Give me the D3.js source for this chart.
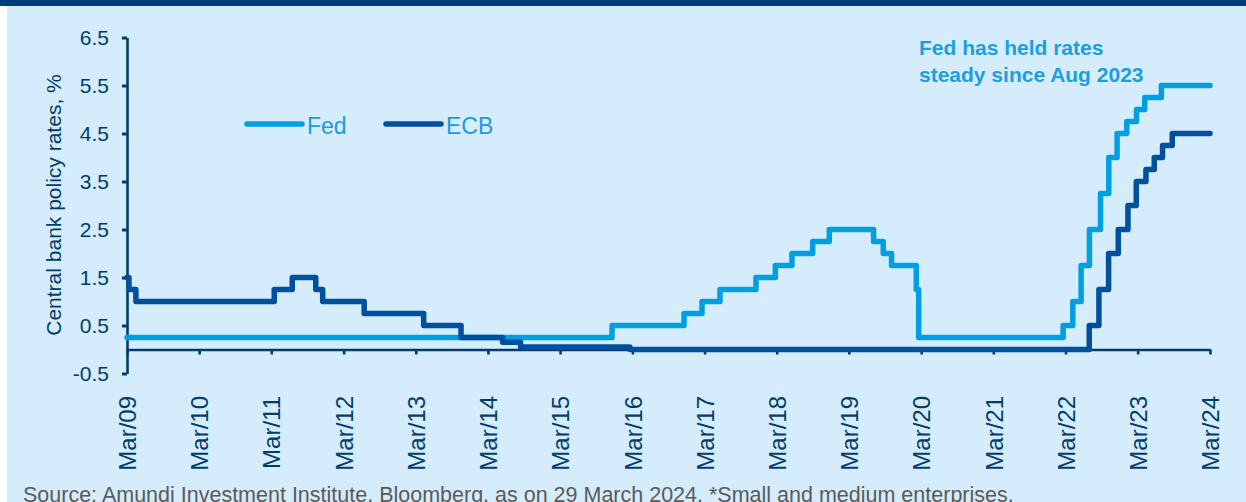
<!DOCTYPE html>
<html>
<head>
<meta charset="utf-8">
<script src="https://cdn.jsdelivr.net/npm/d3@7"></script>
<style>
  html, body { margin: 0; padding: 0; background: #ffffff; }
  #chart-div { width: 1246px; height: 502px; overflow: hidden; }
  text { font-family: "Liberation Sans", Arial, sans-serif; }
</style>
</head>
<body>
<div id="chart-div"></div>
<script>
// policy rate decisions (date of change, new rate in %)
var fedDates = ["2009-03-29","2015-12-17","2016-12-15","2017-03-16","2017-06-15","2017-12-14",
  "2018-03-22","2018-06-14","2018-09-27","2018-12-20","2019-08-01","2019-09-19","2019-10-31",
  "2020-03-04","2020-03-16","2022-03-17","2022-05-05","2022-06-16","2022-07-28","2022-09-22",
  "2022-11-03","2022-12-15","2023-02-02","2023-03-23","2023-05-04","2023-07-27","2024-03-29"];
var fedRates = [0.25,0.5,0.75,1.0,1.25,1.5,
  1.75,2.0,2.25,2.5,2.25,2.0,1.75,
  1.25,0.25,0.5,1.0,1.75,2.5,3.25,
  4.0,4.5,4.75,5.0,5.25,5.5,5.5];

var ecbDates = ["2009-03-29","2009-04-08","2009-05-13","2011-04-13","2011-07-13","2011-11-09",
  "2011-12-14","2012-07-11","2013-05-08","2013-11-13","2014-06-11","2014-09-10","2016-03-16",
  "2022-07-27","2022-09-14","2022-11-02","2022-12-21","2023-02-08","2023-03-22","2023-05-10",
  "2023-06-21","2023-08-02","2023-09-20","2024-03-29"];
var ecbRates = [1.5,1.25,1.0,1.25,1.5,1.25,
  1.0,0.75,0.5,0.25,0.15,0.05,0.0,
  0.5,1.25,2.0,2.5,3.0,3.5,3.75,
  4.0,4.25,4.5,4.5];

var xTickLabels = ["Mar/09","Mar/10","Mar/11","Mar/12","Mar/13","Mar/14","Mar/15","Mar/16",
  "Mar/17","Mar/18","Mar/19","Mar/20","Mar/21","Mar/22","Mar/23","Mar/24"];
var yTicks = [-0.5, 0.5, 1.5, 2.5, 3.5, 4.5, 5.5, 6.5];

var width = 1246
var height = 502
var navy = "#003c6e"
var fedColor = "#009fe3"
var ecbColor = "#00509e"

var svg = d3.select('#chart-div')
            .append('svg')
            .attr("width", width)
            .attr("height", height)
            .attr("viewBox", [0, 0, width, height]);

// background panel and top band
svg.append("rect").attr("x", 7).attr("y", 0).attr("width", width - 7).attr("height", height).attr("fill", "#d5ecfc");
svg.append("rect").attr("x", 0).attr("y", 0).attr("width", width).attr("height", 6).attr("fill", "#003b7a");

var parse = d3.timeParse("%Y-%m-%d");
var fed = fedDates.map(function(d, i) { return {date: parse(d), value: fedRates[i]}; });
var ecb = ecbDates.map(function(d, i) { return {date: parse(d), value: ecbRates[i]}; });
var tickDates = xTickLabels.map(function(d) { return parse("20" + d.slice(4) + "-03-29"); });

var x = d3.scaleTime()
    .domain([tickDates[0], tickDates[tickDates.length - 1]])
    .range([127, 1210]);

var y = d3.scaleLinear()
    .domain([-0.5, 6.5])
    .range([373.5, 37.5]);

// y axis
var yAxis = d3.axisLeft(y)
    .tickValues(yTicks)
    .tickSize(5)
    .tickSizeOuter(0)
    .tickPadding(13)
    .tickFormat(function(d) { return d.toFixed(1); });

var gy = svg.append("g")
    .attr("class", "y axis")
    .attr("transform", "translate(127,0)")
    .call(yAxis);
gy.select(".domain").attr("stroke", navy).attr("stroke-width", 2.6);
gy.selectAll(".tick line").attr("stroke", navy).attr("stroke-width", 3);
gy.selectAll(".tick text")
    .attr("fill", navy)
    .style("font-size", "21px");

// x axis sits on zero
var xAxis = d3.axisBottom(x)
    .tickValues(tickDates)
    .tickSize(5)
    .tickSizeOuter(0)
    .tickFormat(function(d, i) { return xTickLabels[i]; });

var gx = svg.append("g")
    .attr("class", "x axis")
    .attr("transform", "translate(0," + y(0) + ")")
    .call(xAxis);
gx.select(".domain").attr("stroke", navy).attr("stroke-width", 2.6);
gx.selectAll(".tick line").attr("stroke", navy).attr("stroke-width", 2.6);
gx.selectAll(".tick text")
    .attr("fill", navy)
    .attr("transform", "rotate(-90)")
    .attr("x", -(396 - y(0)))
    .attr("y", 0)
    .attr("dy", "0.36em")
    .style("text-anchor", "end")
    .style("font-size", "24px");

// axis title
svg.append("text")
    .attr("transform", "translate(53,205) rotate(-90)")
    .attr("dy", "0.36em")
    .attr("fill", navy)
    .style("text-anchor", "middle")
    .style("font-size", "21px")
    .text("Central bank policy rates, %");

// lines
var line = d3.line()
    .x(function(d) { return x(d.date); })
    .y(function(d) { return y(d.value); })
    .curve(d3.curveStepAfter);

svg.append("path")
    .datum(fed)
    .attr("fill", "none")
    .attr("stroke", fedColor)
    .attr("stroke-width", 5.5)
    .attr("stroke-linejoin", "round")
    .attr("stroke-linecap", "round")
    .attr("d", line);

svg.append("path")
    .datum(ecb)
    .attr("fill", "none")
    .attr("stroke", ecbColor)
    .attr("stroke-width", 5.5)
    .attr("stroke-linejoin", "round")
    .attr("stroke-linecap", "round")
    .attr("d", line);

// legend
var legendItems = [{name: "Fed", color: fedColor, x: 247}, {name: "ECB", color: ecbColor, x: 386}];
var legend = svg.append("g").attr("class", "legend");
legend.selectAll("line")
    .data(legendItems)
    .enter()
    .append("line")
    .attr("x1", function(d) { return d.x; })
    .attr("x2", function(d) { return d.x + 55; })
    .attr("y1", 124)
    .attr("y2", 124)
    .attr("stroke", function(d) { return d.color; })
    .attr("stroke-width", 5.5)
    .attr("stroke-linecap", "round");
legend.selectAll("text")
    .data(legendItems)
    .enter()
    .append("text")
    .attr("x", function(d) { return d.x + 60; })
    .attr("y", 134)
    .attr("fill", "#1a9be6")
    .style("font-size", "23px")
    .text(function(d) { return d.name; });

// annotation
var note = svg.append("text")
    .attr("fill", "#1aa0e2")
    .style("font-size", "21px")
    .style("font-weight", "bold");
note.append("tspan").attr("x", 919).attr("y", 55).text("Fed has held rates");
note.append("tspan").attr("x", 919).attr("y", 82).text("steady since Aug 2023");

// source
svg.append("text")
    .attr("x", 23)
    .attr("y", 502)
    .attr("fill", "#5a5a5a")
    .style("font-size", "21.5px")
    .text("Source: Amundi Investment Institute, Bloomberg, as on 29 March 2024. *Small and medium enterprises.");
</script>
</body>
</html>
